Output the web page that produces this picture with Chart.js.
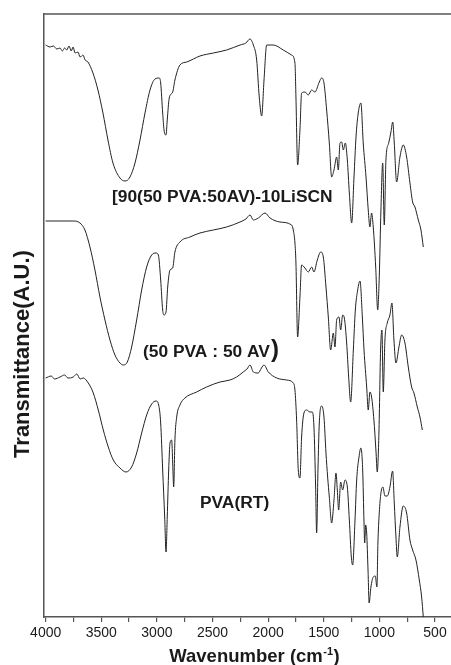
<!DOCTYPE html>
<html>
<head>
<meta charset="utf-8">
<script src="https://cdn.jsdelivr.net/npm/chart.js@4.4.1/dist/chart.umd.min.js"></script>
<style>
  html, body { margin: 0; padding: 0; background: #ffffff; }
  #wrap { width: 451px; height: 665px; position: relative; }
</style>
</head>
<body>
<div id="wrap"><canvas id="c" width="451" height="665"></canvas></div>
<script>
// ---- Data (wavenumber in cm^-1, transmittance in arbitrary units, curves offset vertically) ----
const wnTop = [4000,3960,3930,3900,3871,3850,3830,3811,3790,3770,3754,3735,3710,3690,3665,3645,3620,3575,3530,3485,3440,3395,3332,3287,3242,3197,3152,3107,3062,3017,2979,2966,2948,2936,2918,2907,2889,2858,2838,2793,2732,2613,2493,2373,2253,2200,2163,2133,2103,2080,2058,2037,2013,1954,1864,1789,1759,1750,1735,1714,1699,1669,1639,1609,1579,1540,1519,1498,1474,1450,1429,1408,1384,1369,1354,1339,1324,1306,1288,1270,1249,1228,1210,1190,1166,1145,1120,1100,1085,1070,1055,1033,1015,1001,986,970,956,941,916,896,880,866,845,815,785,755,725,701,680,650,626,605];
const tTop = [572,570,571,568,569,566,569,567,571,566,570,564,565,560,562,557,555,544,527,504,477,454,439,436,440,454,477,504,527,538,539,534,504,487,482,497,519,525,537,552,555,561,564,567,572,574,578,572,557,520,501,537,572,572,567,562,554,520,452,487,524,525,522,527,525,535,539,534,507,474,440,447,460,447,474,475,467,474,457,424,394,440,480,504,514,474,440,407,390,404,390,350,307,340,407,454,392,457,474,485,495,474,435,460,472,460,434,415,410,397,387,370];

const wnMid = [4000,3871,3752,3692,3647,3602,3557,3512,3467,3422,3377,3332,3302,3266,3227,3182,3137,3092,3047,3008,2987,2966,2948,2936,2918,2903,2882,2858,2838,2793,2703,2613,2493,2373,2253,2200,2163,2133,2088,2028,1983,1894,1789,1774,1759,1750,1735,1714,1699,1669,1639,1609,1588,1558,1528,1504,1480,1459,1438,1414,1399,1384,1363,1348,1330,1315,1294,1276,1258,1234,1216,1195,1174,1153,1138,1114,1100,1085,1070,1049,1031,1019,1004,989,977,965,950,929,905,887,869,851,824,800,770,740,710,689,659,635,614];
const tMid = [396,396,396,394,387,370,347,320,297,277,262,254,252,255,270,297,327,350,362,364,362,337,307,302,305,330,347,349,365,375,380,384,387,390,395,398,402,397,399,404,399,395,392,387,374,354,280,320,352,349,345,350,345,357,365,360,330,300,267,284,270,297,300,287,302,299,274,240,215,267,307,327,336,300,267,230,207,225,220,197,167,145,184,267,287,225,277,294,302,314,277,254,270,282,274,250,230,224,210,200,187];

const wnBot = [4000,3950,3920,3871,3830,3800,3752,3720,3690,3662,3617,3572,3527,3482,3437,3392,3332,3278,3227,3182,3137,3092,3047,3008,2984,2966,2948,2930,2918,2907,2894,2882,2867,2858,2849,2838,2822,2793,2748,2643,2553,2433,2343,2283,2224,2190,2163,2133,2088,2060,2037,1998,1923,1833,1774,1759,1744,1729,1714,1699,1678,1654,1624,1603,1588,1573,1564,1552,1540,1519,1498,1480,1465,1450,1429,1408,1390,1378,1366,1348,1330,1309,1288,1270,1252,1240,1219,1204,1183,1166,1150,1138,1132,1123,1114,1102,1092,1076,1055,1037,1022,1013,1001,986,968,950,929,905,881,866,851,839,815,785,755,725,701,671,641,620,605];
const tBot = [239,241,238,240,242,239,240,243,238,239,234,224,207,187,170,157,149,145,150,164,184,202,213,216,212,194,147,100,65,100,147,174,177,154,130,177,200,212,219,225,230,235,237,240,245,248,252,245,244,249,252,245,239,237,234,227,197,147,139,180,204,207,205,205,190,130,84,147,194,211,200,164,140,120,94,117,144,127,107,135,127,137,130,97,60,52,97,137,160,169,147,94,74,92,84,47,14,30,40,41,30,74,104,124,130,121,121,130,146,114,80,60,90,111,104,77,67,57,37,20,0];

const seriesNames = ['[90(50 PVA:50AV)-10LiSCN', '(50 PVA : 50 AV)', 'PVA(RT)'];
const xMajorTicks = [4000,3500,3000,2500,2000,1500,1000,500];
const xAllTicks = [4000,3750,3500,3250,3000,2750,2500,2250,2000,1750,1500,1250,1000,750,500];
const xTitle = ['Wavenumber (cm', '-1', ')'];
const yTitle = 'Transmittance(A.U.)';

const toPts = (xs, ys) => xs.map((x, i) => ({x: x, y: ys[i]}));

// label anchors in data coordinates (wavenumber, A.U.)
const labelAnchors = [
  {x: 3404, y: 420},
  {x: 3125, y: 265},
  {x: 2613, y: 114}
];

const FONT = '"Liberation Sans", Arial, Helvetica, sans-serif';
const INK = '#1a1a1a';
const AXIS = '#555555';

const framePlugin = {
  id: 'frame',
  afterDraw(chart) {
    const ctx = chart.ctx;
    const a = chart.chartArea;
    ctx.save();
    ctx.strokeStyle = AXIS;
    ctx.lineWidth = 1.5;
    ctx.beginPath();
    ctx.moveTo(a.left, a.top);
    ctx.lineTo(a.right, a.top);
    ctx.stroke();

    // axis titles
    ctx.fillStyle = INK;
    // x title with superscript
    const big = 'bold 18.5px ' + FONT, small = 'bold 11px ' + FONT;
    ctx.font = big;
    const w0 = ctx.measureText(xTitle[0]).width;
    const w2 = ctx.measureText(xTitle[2]).width;
    ctx.font = small;
    const w1 = ctx.measureText(xTitle[1]).width;
    const total = w0 + w1 + w2 + 1;
    const cx = (a.left + a.right) / 2 + 7;
    let x = cx - total / 2;
    const base = 662;
    ctx.textAlign = 'left';
    ctx.textBaseline = 'alphabetic';
    ctx.font = big; ctx.fillText(xTitle[0], x, base); x += w0 + 0.5;
    ctx.font = small; ctx.fillText(xTitle[1], x, base - 7); x += w1 + 0.5;
    ctx.font = big; ctx.fillText(xTitle[2], x, base);

    // y title
    ctx.save();
    ctx.translate(23, 354);
    ctx.rotate(-Math.PI / 2);
    ctx.font = 'bold 22px ' + FONT;
    ctx.textAlign = 'center';
    ctx.textBaseline = 'middle';
    ctx.fillText(yTitle, 0, 0);
    ctx.restore();

    ctx.restore();
  }
};

const labelPlugin = {
  id: 'curveLabels',
  afterDatasetsDraw(chart) {
    const ctx = chart.ctx;
    const xs = chart.scales.x, ys = chart.scales.y;
    ctx.save();
    ctx.fillStyle = INK;
    ctx.textBaseline = 'middle';
    ctx.textAlign = 'left';
    seriesNames.forEach((name, i) => {
      const px = xs.getPixelForValue(labelAnchors[i].x);
      const py = ys.getPixelForValue(labelAnchors[i].y);
      if (i === 1) {
        const main = name.slice(0, -1);
        ctx.font = 'bold 17.4px ' + FONT;
        ctx.fillText(main, px, py);
        const w = ctx.measureText(main).width;
        ctx.font = 'bold 24px ' + FONT;
        ctx.fillText(')', px + w + 1, py - 2);
      } else {
        ctx.font = 'bold 17.4px ' + FONT;
        ctx.fillText(name, px, py);
      }
    });
    ctx.restore();
  }
};

const mkDs = (label, xs, ys) => ({
  label: label,
  data: toPts(xs, ys),
  borderColor: '#222222',
  borderWidth: 1,
  pointRadius: 0,
  fill: false,
  cubicInterpolationMode: 'monotone'
});

new Chart(document.getElementById('c'), {
  type: 'line',
  data: {
    datasets: [
      mkDs(seriesNames[0], wnTop, tTop),
      mkDs(seriesNames[1], wnMid, tMid),
      mkDs(seriesNames[2], wnBot, tBot)
    ]
  },
  options: {
    responsive: false,
    animation: false,
    devicePixelRatio: 1,
    layout: { padding: { top: 14, left: 0, right: 0, bottom: 0 } },
    plugins: { legend: { display: false }, tooltip: { enabled: false } },
    scales: {
      x: {
        type: 'linear',
        reverse: true,
        min: 356,
        max: 4015,
        afterBuildTicks(scale) { scale.ticks = xAllTicks.map(v => ({value: v})); },
        afterFit(scale) { scale.height = 48; },
        ticks: {
          autoSkip: false,
          maxRotation: 0,
          color: INK,
          font: { family: FONT, size: 14 },
          padding: 3,
          callback: (v) => xMajorTicks.includes(v) ? String(v) : ''
        },
        grid: { drawOnChartArea: false, drawTicks: true, tickLength: 5, color: AXIS, lineWidth: 1.2 },
        border: { display: true, color: AXIS, width: 1.5 },
        title: { display: false, text: 'Wavenumber (cm\u207B\u00B9)' }
      },
      y: {
        type: 'linear',
        min: 0,
        max: 603,
        afterFit(scale) { scale.width = 44; },
        ticks: { display: false },
        grid: { display: false, drawTicks: false },
        border: { display: true, color: AXIS, width: 1.5 },
        title: { display: false, text: 'Transmittance(A.U.)' }
      }
    }
  },
  plugins: [framePlugin, labelPlugin]
});
</script>
</body>
</html>
